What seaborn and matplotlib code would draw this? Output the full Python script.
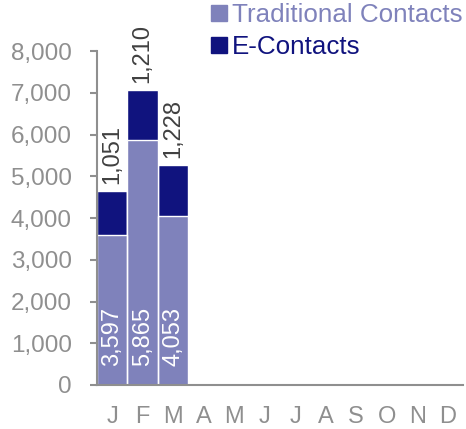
import matplotlib
matplotlib.use("Agg")
import matplotlib.pyplot as plt
import seaborn as sns
import pandas as pd
from matplotlib.lines import Line2D

months = ["J", "F", "M", "A", "M ", "J ", "J  ", "A ", "S", "O", "N", "D"]
month_labels = ["J", "F", "M", "A", "M", "J", "J", "A", "S", "O", "N", "D"]
data_months = ["J", "F", "M"]
traditional = [3597, 5865, 4053]
econtacts = [1051, 1210, 1228]
yticks = [0, 1000, 2000, 3000, 4000, 5000, 6000, 7000, 8000]

c_trad = "#7F82BB"
c_e = "#10137E"
gray = "#8F8F8F"

sns.set_theme(style="white")
plt.rcParams["font.family"] = ["Liberation Sans", "DejaVu Sans"]

df = pd.DataFrame({
    "month": data_months,
    "trad": traditional,
    "e": econtacts,
})
df["total"] = df["trad"] + df["e"]

fig = plt.figure(figsize=(4.66, 4.29), dpi=100)
ax = fig.add_axes([0.208, 0.1026, 0.7856, 0.7784])

sns.barplot(data=df, x="month", y="total", order=months, color=c_e,
            width=1.0, edgecolor="white", linewidth=1, saturation=1, ax=ax)
sns.barplot(data=df, x="month", y="trad", order=months, color=c_trad,
            width=1.0, edgecolor="none", linewidth=0, saturation=1, ax=ax)
sns.barplot(data=df, x="month", y="trad", order=months, fill=False,
            width=1.0, edgecolor="white", linewidth=1, saturation=1, ax=ax)

ax.set_ylim(0, 8000)
ax.set_xlim(-0.5, 11.5)
ax.set_yticks(yticks)
ax.set_yticklabels([f"{v:,}" for v in yticks])
ax.set_xticks(range(12))
ax.set_xticklabels(month_labels)
ax.set_xlabel("")
ax.set_ylabel("")

for s in ["top", "right"]:
    ax.spines[s].set_visible(False)
for s in ["left", "bottom"]:
    ax.spines[s].set_color(gray)
    ax.spines[s].set_linewidth(1.5)
ax.tick_params(axis="y", colors=gray, labelsize=17.5, length=5, width=1.5,
               direction="out", left=True, pad=13)
ax.tick_params(axis="x", colors=gray, labelsize=17, length=0, pad=15)

for i, (t, e) in enumerate(zip(traditional, econtacts)):
    ax.annotate(f"{t:,}", (i, 0), xytext=(0, 14), textcoords="offset points",
                rotation=90, ha="center", va="bottom", color="white", fontsize=17)
    ax.annotate(f"{e:,}", (i, t + e), xytext=(0, 5), textcoords="offset points",
                rotation=90, ha="center", va="bottom", color="#404040", fontsize=17)

handles = [
    Line2D([], [], marker="s", linestyle="none", markersize=11,
           markerfacecolor=c_trad, markeredgecolor=c_trad),
    Line2D([], [], marker="s", linestyle="none", markersize=11,
           markerfacecolor=c_e, markeredgecolor=c_e),
]
leg = fig.legend(handles, ["Traditional Contacts", "E-Contacts"],
                 loc="upper left", bbox_to_anchor=(0.422, 1.018),
                 frameon=False, fontsize=18.7, handletextpad=0.05,
                 handlelength=0.9, labelspacing=0.33, borderaxespad=0)
for txt, col in zip(leg.get_texts(), [c_trad, c_e]):
    txt.set_color(col)

fig.savefig("out.png", dpi=100)
